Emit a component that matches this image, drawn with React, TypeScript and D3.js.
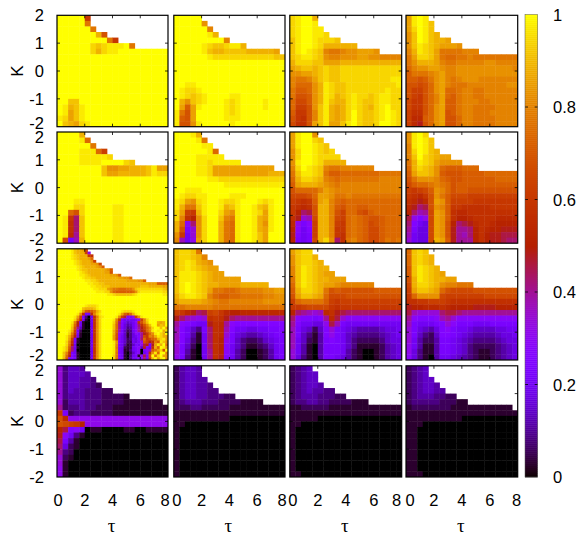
import React from "react";
import * as d3 from "d3";

// Each character is one heat-map cell: base-36 digit / 35 gives the value, "." or a short row means no data.
const Z20 = "zzzzzzzzzzzzzzzzzzzz";

const panelR1C1 = ["zzzzzl","zzzzzr","zzzzzzr","zzzzzzzvo","zzzzzzzzzrl","zzzzzzxwxyyyzr","zzzzzzxvxyyzzzzzzzzz",Z20,Z20,Z20,Z20,Z20,Z20,Z20,Z20,
"zzwwzzzzzzzzzzzzzzzz","zyvwyzzzzzzzzzzzzzzz","zyuwyzzzzzzzzzzzzzzz","yxuwyzzzzzzzzzzzzzzz","zwvuxyzzzzzzzzzzzzzz"];
const panelR1C2 = ["zzzzz","zzzzzt","zzzzzzs","zzzzzzyv","zzzzzzzzzs","zzzzzyxwwxyyv","zzzzzywvvwwwwvvvvvu","zzzzzzyxxxxxxxxxxxww",Z20,Z20,Z20,Z20,
"zzyyzzzzzzzzzzzzzzzz","zyxxyzzzzzzzzzzzzzzz","zyxwxyzzzzyyzzzzzzzz","zvtwxyzzzyxyzzzzyzzz","zupuyzzzzyxyzzzzyzzz","yrouzzzzzyxyzzzzzzzz","ypouzzzzzyyyzzzzzzzz","yootyzzzzzyzzzzzzzzz"];
const panelR1C3 = ["xyzzv","xyzzy","xyzzyy","xyzzyyx","wyzzyxxxw","wyzzyxvvvvvv","wyzyxwsrrsttuuut","wxyyxwtsstttuuttssss","vxxxwwuuuvvvvvvvvvvv","uvwwvwxwwxxxxxxxxxxx","ttuuvwxwwxxxxxxxxxxx","srrsuwxwwxxxxxxxxxyy","sqqqtvyxwwxxxxxxxxxy",
"rppqtvyxwwxxxxxxxyxx","rooptvyxvwxyxxwxyyxx","qnnptvywvvxyxwwxyyxx","qmmotwyvuvxyxwvxyzxx","plloswyvuvxzxwwxyzyx","olkoswyvuvxzxwwxyzyx","nkkouwyuuwyzxwwxzzyx"];
const panelR1C4 = ["uyzy","uyzyw","uxzyw","twzywv","twzywvvu","twyxwvuuut","svyxwurrrrsss","ruxxwurqqrrsrrrrrrrr","rtvvvusrrsssssttssss","qsttuutsstttttttttts","prrrstussttttttttttt","ppoprtusrstttsssssss","oonoqtusrrrssssssstt",
"ommoqtuqqrssrrssssss","omloqsuqprssrrssssss","nlloqsupprsssrrsssss","nlloqtupprssrrrrssss","mkkoqtuoprssrrrsssss","mjjpqtuooqssrrrrssss","mjhoqtuooqssrrrrssss"];

const panelR2C1 = ["zzzzv","zzzzyq","zzzzzzr","zzzzyyyqm","zzzzyyyyyx","zzzzyyyyzzzzxw","zzzzzzzzwttuuvvvwyuu","zzzzzzzzwuuvvvvvwyxx",Z20,Z20,Z20,Z20,
"zzzyyzzzzzzzzzzzzzzz","zzzxxzzzzzyyzzzzzzzz","zzqoxzzzzzyyzzzzzzzz","zylfwzzzzzyyzzzzzzzz","zykfwzzzzzyyzzzzzzzz","zykfwzzzzzyyzzzzzzzz","zyjewzzzzzyyzzzzzzzz","zn8dvzzzzzyyzzzzzzzz"];
const panelR2C2 = ["zzzyv","zzzzyr","zzzzzyy","zzzzzzyq","zzzzyyyyy","zzzzyyxyyyyy","zzzzyyxuuuuuuuuuuu","zzzzyyxuuuuuuuuuuvvv","zzzzzzyyxxxxxxxxxxxx","zzzzzzzzzyyyyyyyyyyy","zzyyyzzzzzzzzzzzzzzz","zyxxyyzzzzyyyzzzzzzz",
"yxutxyzzyxxyzzzyxyzz","yvrrwyzzyvwyzzywvyzz","xumlvyzzxutyzzyxuyzz","xskitxzzwsryzzyvuyzz","vqaftxzzvrqyzzyvtyzz","vo8ctxzzvrqyzzyvuyzz","tl7ctxzzvrqyzzywuzzz","sd7buxzzvrqyzzywuzzz"];
const panelR2C3 = ["uyzzt","uyzzxw","uyzzyxw","txzzyxwx","txzzyxxxx","tyzzyxvvvv","sxzyxwsrrssssss","rwyyxwrppqqqqqqqrrrr","qvxxwvsrqrrrrrrrssss","puvvvutsrsssssssssss","oqqqqsutssssssssssss","nnnoquutrrsrrrrrrrrr","mlklpuvsqpqqqqqqqqqq",
"lkjkovvspoqqppqqqqqq","lifgovvsomqqonpqqqqq","khcdnvvsnmqrqpoopqqq","jb8amvvsmlqrqpnopqqq","ia79mvvsllqrqpnnpqqq","h978mvvslkqrqpnnpqqq","i878nvxtfkrsqpnnprqr"];
const panelR2C4 = ["tyzx","tyzyw","syzyw","sxzywv","swzxwvuu","rvyxwutttt","qvxwvtqpppqqq","puwwvtpoooppppqqqqqq","ortttsqpooppppppqqqq","npqqrsrqoppppppppppp","mlmnptsqoppooooooooo","lkjlotrpnnnmmmmmmmmm","kjhjoutpmmmmllllllll",
"jhfgotspllkkkkklllll","ifdenutpkjjkkkkkkkkk","gb9bnutpkiijkkkkjjjj","f976nutoifghjkkjiiii","e866nutoheefikjiihhh","d766nutohedfikihhggg","c766nvupheeeikihhgff"];

const Z40 = Z20 + Z20;
const panelR3C1 = ["zzzzzywvvun","zzzzzywvvvmb","zzzzzyxwvvvlk","zzzzzyxwvvvuq","zzzzzzyxwvvvtm","zzzzzzyxwvvvuutn","zzzzzzzyxwvvvvutp","zzzzzzzyxwwvvvvvvutp","zzzzzzzzyxwvvvvvvuuo","zzzzzzzzyyxwvvvvvvvuutp","zzzzzzzzzyxxwwvvvvvvvvuuttq","zzzzzzzzzzyyxxwvvvvvvvvvvuuuuttp",
"zzzzzzzzzzzyyxxwwvvvvvvvvvvvvvvvvuuupppp","zzzzzzzzzzzzyyxxwwwvvvvvvvvvvvwwwvvvvvuu","zzzzzzzzzzzzzyyxxxutrrqqqrrtwxxxxxxxxxwv","zzzzzzzzzzzzzzyyyxxtqppppppqtxyyyyyyyyxx","zzzzzzzzzzzzzzzzzzyyxwwwwwwxyzzzzzzzzzyy",Z40,Z40,Z40,
"zzzzzzzzzzyxxxyzzzzz"+Z20,
"zzzzzzzzzwvvvwyzzzzz"+Z20,
"zzzzzzzzyupoprvxzzzz"+"zzzyxxxyzzzzzzzzzzzz",
"zzzzzzzytk88kswyzzzz"+"zzyupnqvyzzzzzzzzzzz",
"zzzzzzyum8307ksxyzzz"+"zytmg98bmtyzzzzzzzzz",
"zzzzzzxrj8107ktxzzzz"+"ysk977778bmsxzzzzzzz",
"zzzzzysi71007ktxzzzz"+"xrf97567akoswzzzvuvz",
"zzzzzxqh71007ktxzzzz"+"wqe96457afkoswzzuwvz",
"zzzzzwoe51007ktxzzzz"+"wqe86347aehmqtxzzwzu",
"zzzzyvm820007ktxzzzz"+"vpd85237aehkqtyzyzvy",
"zzzzxsk810007ktxzzzz"+"vob85136a8ehlqtyzxvz",
"zzzyvqh710007ktxzzzz"+"uoa7513679enlsrvyxvu",
"zzzyum8100007ktxzzzz"+"un97523769fqlnpqvxyu",
"zzzxsk8100007ktxzzzz"+"yt97522768bomhkspywt",
"zzzxri7000007ktxzzzz"+"ys87412587bgi8huyvzr",
"zzywpf7100007ktxzzzz"+"yr8721278a5h97kvqzyu",
"zzywof7000007ktxzzzz"+"ys8711378a08adpruxoz",
"zzwsk87100007ktxzzzz"+"yr8710258a079ktyqzzs",
"zzwqh97100007ktxzzzz"+"xr97103781ag8ozrxzut",
"zzvo897100007ktxzzzz"+"xq8710377a9f7lwzuyzs"];
const panelR3C2 = ["wxxwr","wxxwvs","wxyxvut","wxyxwvuu","wyyyxwvuu","wyyyxwvuuuuu","wyzyxwvvuuuuvvvvv","wyzyxwurrqqrssssttuu","vxyyxwsqppqqrrrrsstt","uvvvvutsrrsssssstttt","rrsssssrrrrrrrrrrrrr","mljhfgmnljiijjjjjjjj","hfdcbcklkhfeeeeeeeee","ea9877hkjea999999999",
"d97538fkjd9776677889","d97417fkjc8654456788","d96317fkib8532235678","c85207fkia7531123578","c84107ekia7420012478","b83107ekh97420012478"];
const panelR3C3 = ["uwxx","twxxv","twxxwv","swyxwvv","swyxwvuu","rwyxwvvuuu","qwyxwvuutssssss","pvxxwvropoooooopppppp","ouwwvuqnnnoooooooooo","mqrrrrpmlmmmmmmmmmmm","llmnnnnlklllllllllll","ifedcdjkhgffffffffff","fa9989ejgcaaaaaaaaaa","e97766bgd87777777777",
"d865259c876544445667","d853149b875433334567","d7521489875322223566","d7410488875311112456","c7410488874210012456","c6310488764210012456"];
const panelR3C4 = ["qwxw","qwxwv","qwxwv","pwyxwv","pwyxwvu","ovyxwvvuu","nvxxwvtssrrr","muwwvuqonnnnoooooooo","lqttttnmmmmmmmnnnnnn","kkllmmmlkkkkkkkkkkkk","hiijjjkjiiiihhhhiiii","gdccccfggfeeeeeeeeee","ea999adecaaaaaaaaaaa","d877789ca88877788888",
"c865469a877655556677","c8532599876544445667","c7422488765433334566","b7411488765322223456","b6311488765321123456","a6310477654321123456"];

const Z0 = "10000000000000000000";
const panelR4C1 = ["c3554","c35554","c355443","c3554432","c354433322","c344433322221","c244433322221111111","e2334332221111111111","l8233322221111111111","ojbbbbbbbbbbbbbbbbbb","onmlibbbbbbbbbbbbbbb","ig9a7011000011001111","ha731000000000000000","g8410000000000000000","f6210000000000000000","e3200000000000000000","c2100000000000000000","c1000000000000000000","b1000000000000000000","b1000000000000000000"];
const panelR4C2 = ["24554","24554","245544","2455443","24554433","24554433322","2344433322221111","22233222221111111111","11111111111111111111","11111111110000000000","11000000000000000000",Z0,Z0,Z0,Z0,Z0,Z0,Z0,Z0,Z0];
const panelR4C3 = ["2345","23455","23455","234554","23454433","2344433322","23344332222111","11222221111111111111","11111111111111111111","11111000000000000000","11000000000000000000",Z0,Z0,Z0,Z0,Z0,Z0,Z0,Z0,"11000000000000000000"];
const panelR4C4 = ["2345","2345","23455","234554","2345544","234443322","23333322211","1222222211111111111","11111111111111111111","11111111110000000000","11100000000000000000","11000000000000000000","11000000000000000000","11000000000000000000","11000000000000000000","11000000000000000000","11000000000000000000","11000000000000000000","11000000000000000000","11100000000000000000"];

const panels = [
  [panelR1C1, panelR1C2, panelR1C3, panelR1C4],
  [panelR2C1, panelR2C2, panelR2C3, panelR2C4],
  [panelR3C1, panelR3C2, panelR3C3, panelR3C4],
  [panelR4C1, panelR4C2, panelR4C3, panelR4C4],
];

const tauTicks = [0, 2, 4, 6, 8];
const kTicks = [2, 1, 0, -1, -2];
const barTicks = [0, 0.2, 0.4, 0.6, 0.8, 1];

// layout
const colX: [number, number][] = [[57, 168], [173.8, 285], [289.8, 401.7], [406, 517.7]];
const rowY: [number, number][] = [[15.3, 126.7], [132, 243.2], [248.8, 360], [365.8, 477]];
const firstLabelDx = [1, 3, 3, 4];
const lastLabelDx = [-3, -3, -5, -1];
const topLabelDy = [0, 5, 6, 4];
const bottomLabelDy = [-4, -4, -5, 0];
const bar = { x0: 525, x1: 537.7, y0: 14.5, y1: 477 };

const SANS = "'Liberation Sans', Arial, sans-serif";
const LABEL_SIZE = 16.5;

function palette(v: number): string {
  const r = Math.sqrt(v);
  const g = v * v * v;
  const b = Math.max(0, Math.sin(2 * Math.PI * v));
  return d3.rgb(r * 255, g * 255, b * 255).formatRgb();
}

function Panel({ rows, r, c }: { rows: string[]; r: number; c: number }) {
  const nRows = rows.length;
  const nCols = nRows;
  const x = d3.scaleLinear().domain([0, 8]).range(colX[c]);
  const y = d3.scaleLinear().domain([2, -2]).range(rowY[r]);
  const dt = 8 / nCols;
  const dk = 4 / nRows;
  const cells: React.ReactNode[] = [];
  rows.forEach((row, j) => {
    for (let i = 0; i < Math.min(row.length, nCols); i++) {
      const ch = row[i];
      if (ch === ".") continue;
      const v = parseInt(ch, 36) / 35;
      const x0 = x(i * dt);
      const y0 = y(2 - j * dk);
      cells.push(
        <rect key={`${i}-${j}`} x={x0} y={y0} width={x((i + 1) * dt) - x0 + (i < nCols - 1 ? 0.4 : 0)} height={y(2 - (j + 1) * dk) - y0 + (j < nRows - 1 ? 0.4 : 0)} fill={palette(v)} />
      );
    }
  });
  const [l, rr] = colX[c];
  const [t, b] = rowY[r];
  return (
    <g>
      {cells}
      {tauTicks.slice(1, -1).map((tk) => (
        <g key={tk} stroke="#000" strokeWidth={0.8}>
          <line x1={x(tk)} x2={x(tk)} y1={b} y2={b - 3} />
          <line x1={x(tk)} x2={x(tk)} y1={t} y2={t + 3} />
        </g>
      ))}
      {kTicks.slice(1, -1).map((tk) => (
        <g key={tk} stroke="#000" strokeWidth={0.8}>
          <line x1={l} x2={l + 3} y1={y(tk)} y2={y(tk)} />
          <line x1={rr} x2={rr - 3} y1={y(tk)} y2={y(tk)} />
        </g>
      ))}
      <rect x={l} y={t} width={rr - l} height={b - t} fill="none" stroke="#000" strokeWidth={1.2} />
      {c === 0 &&
        kTicks.map((tk, idx) => (
          <text key={tk} x={44} y={y(tk) + (idx === 0 ? topLabelDy[r] : idx === 4 ? bottomLabelDy[r] : 0)} textAnchor="end" dominantBaseline="central" fontFamily={SANS} fontSize={LABEL_SIZE}>
            {tk}
          </text>
        ))}
      {c === 0 && (
        <text transform={`translate(17,${(t + b) / 2}) rotate(-90)`} textAnchor="middle" dominantBaseline="central" fontFamily={SANS} fontSize={17}>
          K
        </text>
      )}
      {r === 3 &&
        tauTicks.map((tk, idx) => (
          <text key={tk} x={x(tk) + (idx === 0 ? firstLabelDx[c] : idx === 4 ? lastLabelDx[c] : 0)} y={500} textAnchor="middle" dominantBaseline="central" fontFamily={SANS} fontSize={LABEL_SIZE}>
            {tk}
          </text>
        ))}
      {r === 3 && (
        <text x={(l + rr) / 2 - 1} y={525} textAnchor="middle" dominantBaseline="central" fontFamily="'Liberation Serif', serif" fontSize={19}>
          τ
        </text>
      )}
    </g>
  );
}

function ColorBar() {
  const y = d3.scaleLinear().domain([0, 1]).range([bar.y1, bar.y0]);
  const steps = d3.range(0, 232);
  return (
    <g>
      {steps.map((s) => {
        const v0 = s / 232;
        const v1 = (s + 1) / 232;
        return <rect key={s} x={bar.x0} width={bar.x1 - bar.x0} y={y(v1)} height={y(v0) - y(v1) + 0.4} fill={palette((v0 + v1) / 2)} />;
      })}
      {barTicks.map((tk) => (
        <g key={tk}>
          {tk > 0 && tk < 1 && (
            <>
              <line x1={bar.x0} x2={bar.x0 + 3} y1={y(tk)} y2={y(tk)} stroke="#000" strokeWidth={0.8} />
              <line x1={bar.x1} x2={bar.x1 - 3} y1={y(tk)} y2={y(tk)} stroke="#000" strokeWidth={0.8} />
            </>
          )}
          <text x={553} y={y(tk)} dominantBaseline="central" fontFamily={SANS} fontSize={LABEL_SIZE}>
            {tk}
          </text>
        </g>
      ))}
      <rect x={bar.x0} y={bar.y0} width={bar.x1 - bar.x0} height={bar.y1 - bar.y0} fill="none" stroke="#555" strokeWidth={0.5} />
    </g>
  );
}

export default function App() {
  return (
    <svg width={578} height={536} viewBox="0 0 578 536" style={{ position: "absolute", left: 0, top: 0, display: "block", background: "#fff" }}>
      {panels.map((row, r) => row.map((rows, c) => <Panel key={`${r}-${c}`} rows={rows} r={r} c={c} />))}
      <ColorBar />
    </svg>
  );
}
